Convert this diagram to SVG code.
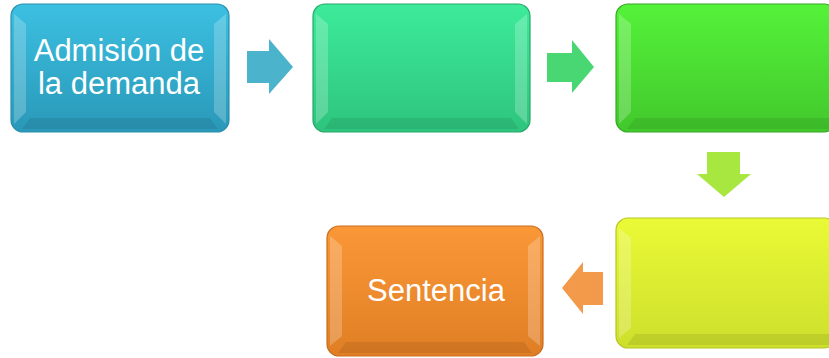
<svg xmlns="http://www.w3.org/2000/svg" width="829" height="358" viewBox="0 0 829 358">
<defs>
<linearGradient id="g1" x1="0" y1="0" x2="0" y2="1"><stop offset="0" stop-color="#3CC0E2"/><stop offset="1" stop-color="#2A98B8"/></linearGradient>
<linearGradient id="g2" x1="0" y1="0" x2="0" y2="1"><stop offset="0" stop-color="#3DEB9A"/><stop offset="1" stop-color="#2EC47E"/></linearGradient>
<linearGradient id="g3" x1="0" y1="0" x2="0" y2="1"><stop offset="0" stop-color="#55F23A"/><stop offset="1" stop-color="#42C82C"/></linearGradient>
<linearGradient id="g4" x1="0" y1="0" x2="0" y2="1"><stop offset="0" stop-color="#EAFA36"/><stop offset="1" stop-color="#CDDF2C"/></linearGradient>
<linearGradient id="g5" x1="0" y1="0" x2="0" y2="1"><stop offset="0" stop-color="#FA9838"/><stop offset="1" stop-color="#E07E24"/></linearGradient>
</defs>
<style>
.edge{stroke-width:1.2;}
.hl{fill:#ffffff;opacity:0.22;}
.sh{fill:#000000;opacity:0.08;}
.t{font-family:"Liberation Sans",Arial,sans-serif;font-size:31px;fill:#ffffff;text-anchor:middle;}
</style>
<g id="connectors">
<polygon points="247,51 269,51 269,39 293,67 269,94 269,83 247,83" fill="#4BB3CC"/>
<polygon points="547,53 572,53 572,40 594,67 572,93 572,82 547,82" fill="#49D774"/>
<polygon points="707,152 740,152 740,174 751,174 724,197 697,174 707,174" fill="#A8E640"/>
<polygon points="603,272 583,272 583,262 562,288 583,314 583,305 603,305" fill="#F39A4A"/>
</g>
<g id="n1">
<rect x="11" y="4" width="218" height="128" rx="12" fill="url(#g1)" stroke="#2A8FAA" class="edge"/>
<polygon points="14,14 26,24 26,112 14,124" class="hl"/>
<polygon points="226,14 214,24 214,112 226,124" class="hl"/>
<polygon points="22,129 30,118 210,118 218,129" class="sh"/>
<text class="t" x="119" y="61">Admisión de</text>
<text class="t" x="119" y="94">la demanda</text>
</g>
<g id="n2">
<rect x="313" y="4" width="217" height="128" rx="12" fill="url(#g2)" stroke="#27A86B" class="edge"/>
<polygon points="316,14 328,24 328,112 316,124" class="hl"/>
<polygon points="527,14 515,24 515,112 527,124" class="hl"/>
<polygon points="324,129 332,118 511,118 519,129" class="sh"/>
</g>
<g id="n3">
<rect x="616" y="4" width="220" height="128" rx="12" fill="url(#g3)" stroke="#38A824" class="edge"/>
<polygon points="619,14 631,24 631,112 619,124" class="hl"/>
<polygon points="627,129 635,118 829,118 829,129" class="sh"/>
</g>
<g id="n4">
<rect x="616" y="218" width="220" height="130" rx="12" fill="url(#g4)" stroke="#B5C626" class="edge"/>
<polygon points="619,228 631,238 631,328 619,338" class="hl"/>
<polygon points="627,345 635,334 829,334 829,345" class="sh"/>
</g>
<g id="n5">
<rect x="327" y="226" width="216" height="130" rx="12" fill="url(#g5)" stroke="#C86E1E" class="edge"/>
<polygon points="330,236 342,246 342,336 330,346" class="hl"/>
<polygon points="540,236 528,246 528,336 540,346" class="hl"/>
<polygon points="338,353 346,342 524,342 532,353" class="sh"/>
<text class="t" x="436" y="301">Sentencia</text>
</g>
</svg>
